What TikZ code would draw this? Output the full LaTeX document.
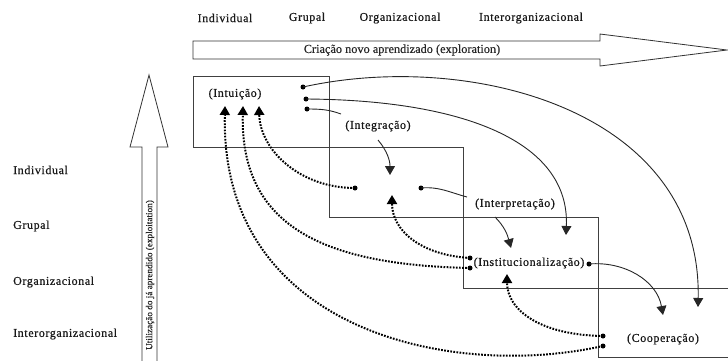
\documentclass[tikz,border=0pt]{standalone}
\usepackage{fontspec}
\setmainfont{Liberation Serif}
\newfontfamily\spacedfont[LetterSpace=5,FakeBold=0.6]{Liberation Serif}
\newfontfamily\plainfont[FakeBold=0.3]{Liberation Serif}
\usetikzlibrary{arrows.meta}
\begin{document}
\begin{tikzpicture}[x=1pt,y=-1pt,
  lbl/.style={inner sep=0pt,text=black!90,font=\spacedfont\fontsize{12}{14}\selectfont},
  boxline/.style={draw=black!75,line width=0.8pt},
  bigarrow/.style={draw=black!80,line width=0.8pt,fill=white},
  dotnode/.style={circle,fill=black,inner sep=0pt,minimum size=5pt},
  solidarrow/.style={draw=black!85,line width=0.9pt,-{Triangle[width=10pt,length=9pt]}},
  solidline/.style={draw=black!85,line width=0.9pt},
  dottedarrow/.style={draw=black,line width=2pt,dash pattern=on 1.7pt off 1.4pt,-{Triangle[width=10pt,length=9pt]}}
]
\useasboundingbox (0,0) rectangle (728,360);

% big horizontal arrow
\draw[bigarrow] (193,41) -- (600,41) -- (600,34) -- (727,50) -- (600,66) -- (600,59) -- (193,59) -- cycle;
\node[inner sep=0pt,text=black!85,font=\plainfont\fontsize{12.3}{14}\selectfont] (hx) at (402,50) {Criação novo aprendizado (exploration)};

% big vertical arrow
\draw[bigarrow] (142,362) -- (142,147) -- (130,147) -- (149,75) -- (168,147) -- (157,147) -- (157,362);
\node[inner sep=0pt,rotate=90,text=black!85,font=\plainfont\fontsize{9.2}{10}\selectfont] (vx) at (150,275) {Utilização do já aprendido (exploitation)};

% top labels
\node[lbl] (tInd) at (225,18) {Individual};
\node[lbl] (tGru) at (307,18) {Grupal};
\node[lbl] (tOrg) at (400,18) {Organizacional};
\node[lbl] (tInt) at (531,18) {Interorganizacional};

% left labels
\node[lbl,anchor=west] (lInd) at (13,170) {Individual};
\node[lbl,anchor=west] (lGru) at (13,226) {Grupal};
\node[lbl,anchor=west] (lOrg) at (13,282) {Organizacional};
\node[lbl,anchor=west] (lInt) at (13,334) {Interorganizacional};

% boxes
\draw[boxline] (193,76) rectangle (329,147);
\draw[boxline] (329,147) rectangle (463,217);
\draw[boxline] (463,217) rectangle (598,288);
\draw[boxline] (730,288) -- (598,288) -- (598,357) -- (730,357);

% stage labels
\node[lbl] (intu) at (235,94) {(Intuição)};
\node[lbl] (integ) at (378,126) {(Integração)};
\node[lbl] (interp) at (515,204) {(Interpretação)};
\node[lbl] (inst) at (529,263) {(Institucionalização)};
\node[lbl] (coop) at (663,339) {(Cooperação)};

% dots
\node[dotnode] (a1) at (303,87) {};
\node[dotnode] (a2) at (306,99) {};
\node[dotnode] (a3) at (307,109) {};
\node[dotnode] (b1) at (355,188) {};
\node[dotnode] (b2) at (421,188) {};
\node[dotnode] (c1) at (470,258) {};
\node[dotnode] (c2) at (470,268) {};
\node[dotnode] (c3) at (589,264) {};
\node[dotnode] (d1) at (603,336) {};
\node[dotnode] (d2) at (603,346) {};

% arrow tip coordinates
\coordinate (tp1) at (698,307);
\coordinate (tp2) at (566,235);
\coordinate (e1) at (341,114);
\coordinate (s2) at (378,140);
\coordinate (tp3) at (390,175);
\coordinate (e2) at (467,197);
\coordinate (s3) at (495,217);
\coordinate (tp4) at (511,248);
\coordinate (tp5) at (663,315);
\coordinate (u1) at (225,106);
\coordinate (u2) at (243,106);
\coordinate (u3) at (259,106);
\coordinate (u4) at (392,195);
\coordinate (u5) at (507,274);

% solid connectors
\draw[solidarrow] (a1.center) .. controls (470,50) and (702,110) .. (tp1);
\draw[solidarrow] (a2.center) .. controls (460,100) and (570,140) .. (tp2);
\draw[solidline] (a3.center) to[out=0,in=160] (e1);
\draw[solidarrow] (s2) to[out=-50,in=90] (tp3);
\draw[solidline] (b2.center) to[out=5,in=165] (e2);
\draw[solidarrow] (s3) to[out=-45,in=105] (tp4);
\draw[solidarrow] (c3.center) to[out=5,in=100] (tp5);

% dotted connectors
\draw[dottedarrow] (b1.center) .. controls (300,188) and (260,150) .. (u3);
\draw[dottedarrow] (c1.center) .. controls (420,255) and (392,230) .. (u4);
\draw[dottedarrow] (c2.center) .. controls (330,265) and (240,230) .. (u2);
\draw[dottedarrow] (d1.center) .. controls (540,335) and (507,310) .. (u5);
\draw[dottedarrow] (d2.center) .. controls (450,380) and (220,330) .. (u1);
\end{tikzpicture}
\end{document}
